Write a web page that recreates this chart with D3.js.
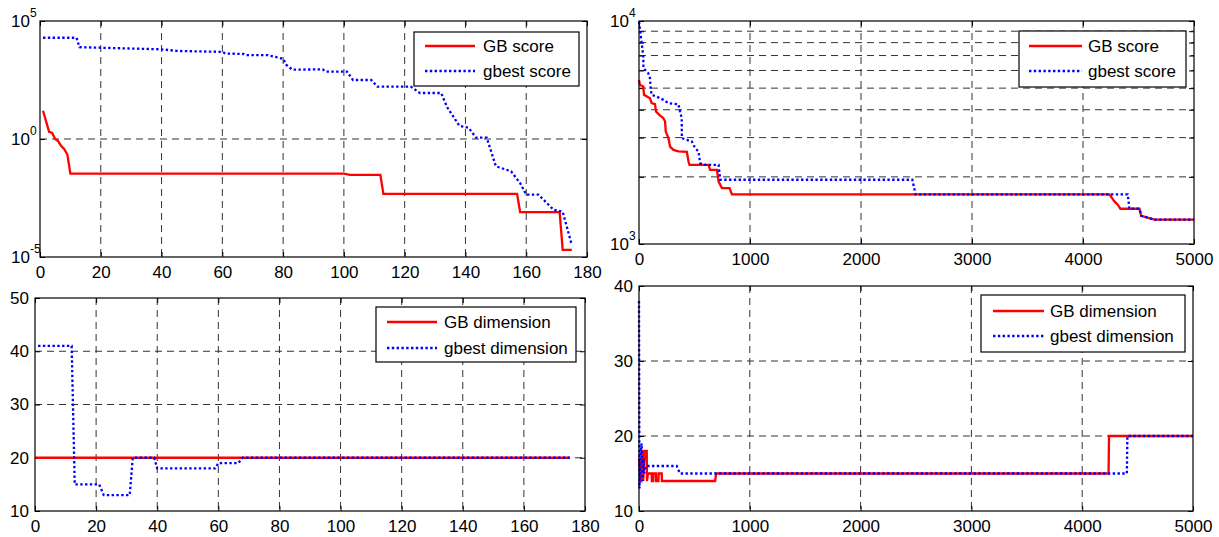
<!DOCTYPE html>
<html>
<head>
<meta charset="utf-8">
<script src="https://cdn.jsdelivr.net/npm/d3@7"></script>
<style>
body { margin: 0; background: #fff; }
svg { display: block; }
text { font-family: "Liberation Sans", Arial, sans-serif; fill: #000; }
</style>
</head>
<body>
<svg id="chart" width="1219" height="537"></svg>
<script>
// ---- data ----
// top left: score vs iteration (log y)
const tlGbIter = [1, 3, 4, 5, 6, 7, 8, 9, 10, 100, 102, 112, 113, 157, 158, 171, 172, 175];
const tlGbScore = [15.8, 2.0, 1.8, 1.0, 0.8, 0.5, 0.37, 0.22, 0.034, 0.034, 0.03, 0.03, 0.0047, 0.0047, 0.0008, 0.0008, 0.00002, 0.00002];
const tlBestIter = [1, 12, 13, 40, 45, 60, 61, 67, 68, 75, 80, 81, 83, 93, 94, 101, 103, 109, 111, 122, 125, 132, 134, 138, 141, 143.5, 147, 150, 155, 158, 160, 164, 169, 172, 175];
const tlBestScore = [19500, 19500, 7760, 6300, 5400, 4900, 4200, 4000, 3550, 3550, 2500, 1400, 870, 890, 720, 720, 316, 316, 166, 166, 89, 89, 22, 3.6, 3.0, 1.15, 1.15, 0.07, 0.043, 0.0135, 0.0044, 0.0044, 0.001, 0.00083, 0.000032];

// top right: score vs iteration (log y)
const trGbIter = [0, 9, 39, 45, 99, 114, 144, 153, 183, 220, 235, 241, 265, 280, 310, 355, 431, 446, 455, 626, 641, 702, 717, 747, 816, 837, 4238, 4283, 4313, 4337, 4509, 4524, 4645, 5000];
const trGbScore = [5445, 5167, 5080, 4665, 4505, 4280, 4235, 3925, 3795, 3665, 3540, 3193, 2983, 2735, 2643, 2600, 2590, 2344, 2265, 2265, 2152, 2152, 1906, 1782, 1782, 1670, 1670, 1552, 1500, 1439, 1439, 1339, 1285, 1285];
const trBestIter = [0, 9, 24, 39, 40, 84, 99, 105, 114, 159, 220, 265, 355, 370, 385, 386, 431, 476, 506, 536, 551, 581, 717, 732, 2462, 2492, 4403, 4418, 4509, 4524, 4645, 5000];
const trBestScore = [9930, 9115, 7940, 6920, 6140, 5830, 5535, 5000, 4665, 4580, 4430, 4280, 4235, 3925, 3665, 2983, 2930, 2880, 2690, 2600, 2305, 2265, 2265, 1941, 1941, 1670, 1670, 1439, 1439, 1339, 1285, 1285];

// bottom left: dimension vs iteration
const blGbIter = [0, 175];
const blGbDim = [20, 20];
const blBestIter = [1, 12, 13, 21, 22.5, 31, 32, 39, 40, 59, 60, 66.5, 68, 175];
const blBestDim = [41, 41, 15, 15, 13, 13, 20, 20, 18, 18, 19, 19, 20, 20];

// bottom right: dimension vs iteration
const brGbIter = [0, 10, 15, 22, 25, 35, 38, 45, 55, 70, 72, 80, 114, 116, 129, 131, 153, 155, 175, 177, 205, 207, 687, 696, 4238, 4242, 5000];
const brGbDim = [17, 15, 14, 14, 18, 18, 14, 16, 18, 18, 14, 15, 15, 14, 14, 15, 15, 14, 14, 15, 15, 14, 14, 15, 15, 20, 20];
const brBestIter = [0, 4, 14, 24, 32, 40, 48, 60, 340, 370, 4403, 4408, 5000];
const brBestDim = [38, 13, 18, 19, 14, 17, 15, 16, 16, 15, 15, 20, 20];

// tick values
const iterTicksShort = [0, 20, 40, 60, 80, 100, 120, 140, 160, 180];
const iterTicksLong = [0, 1000, 2000, 3000, 4000, 5000];
const tlDecades = [-5, 0, 5];
const trDecades = [3, 4];
const trMinor = [2000, 3000, 4000, 5000, 6000, 7000, 8000, 9000];
const blDimTicks = [10, 20, 30, 40, 50];
const brDimTicks = [10, 20, 30, 40];

const scoreLabels = ["GB score", "gbest score"];
const dimLabels = ["GB dimension", "gbest dimension"];

// ---- drawing ----
const svg = d3.select("#chart");
const RED = "#ff0000", BLUE = "#0000ff";
const FONT = "Liberation Sans, Arial, sans-serif";

function drawPanel(cfg) {
    const g = svg.append("g");
    const x = d3.scaleLinear().domain(cfg.xDomain).range([cfg.left, cfg.right]);
    const y = (cfg.log ? d3.scaleLog() : d3.scaleLinear())
        .domain(cfg.yDomain).range([cfg.bottom, cfg.top]);

    const xTicks = cfg.xTicks;
    const yTicks = cfg.log ? cfg.decades.map(d => Math.pow(10, d)) : cfg.yTicks;

    // dashed grid
    g.selectAll(".gx").data(xTicks.slice(1, -1)).join("line")
        .attr("x1", d => x(d)).attr("x2", d => x(d))
        .attr("y1", cfg.top).attr("y2", cfg.bottom)
        .attr("stroke", "#333").attr("stroke-width", 1).attr("stroke-dasharray", "7,5");
    g.selectAll(".gy").data(cfg.yGrid).join("line")
        .attr("x1", cfg.left).attr("x2", cfg.right)
        .attr("y1", d => y(d)).attr("y2", d => y(d))
        .attr("stroke", "#333").attr("stroke-width", 1).attr("stroke-dasharray", "7,5");

    // axes with inward ticks
    g.append("g").attr("transform", `translate(0,${cfg.bottom})`)
        .call(d3.axisBottom(x).tickValues(xTicks).tickSize(-5).tickSizeOuter(0).tickPadding(9)
            .tickFormat(d3.format("d")))
        .call(a => a.select(".domain").remove())
        .selectAll("text").style("font-size", "17px").style("font-family", FONT).attr("fill", "#000");
    g.append("g").attr("transform", `translate(0,${cfg.top})`)
        .call(d3.axisTop(x).tickValues(xTicks).tickSize(-5).tickSizeOuter(0).tickFormat(""))
        .call(a => a.select(".domain").remove());

    const yAll = cfg.log ? yTicks.concat(cfg.yMinor || []) : yTicks;
    const left = g.append("g").attr("transform", `translate(${cfg.left},0)`)
        .call(d3.axisLeft(y).tickValues(yAll).tickSize(-5).tickSizeOuter(0).tickPadding(6)
            .tickFormat(cfg.log ? "" : d3.format("d")))
        .call(a => a.select(".domain").remove());
    left.selectAll("text").style("font-size", "17px").style("font-family", FONT).attr("fill", "#000");
    g.append("g").attr("transform", `translate(${cfg.right},0)`)
        .call(d3.axisRight(y).tickValues(yAll).tickSize(-5).tickSizeOuter(0).tickFormat(""))
        .call(a => a.select(".domain").remove());

    if (cfg.log) {
        // 10^n labels with superscripts
        g.selectAll(".ylab").data(cfg.decades).join("text")
            .attr("x", cfg.left - 4 - cfg.supWidth)
            .attr("y", d => y(Math.pow(10, d)))
            .attr("dy", "0.36em")
            .attr("text-anchor", "end")
            .style("font-size", "17px")
            .text("10");
        g.selectAll(".ysup").data(cfg.decades).join("text")
            .attr("x", cfg.left - 4 - cfg.supWidth)
            .attr("y", d => y(Math.pow(10, d)) - 4)
            .attr("text-anchor", "start")
            .style("font-size", "12px")
            .text(d => String(d));
    }

    // series
    const line = d3.line().x(d => x(d[0])).y(d => y(d[1]));
    g.append("path").datum(d3.zip(cfg.gbIter, cfg.gbVal))
        .attr("d", line).attr("fill", "none")
        .attr("stroke", RED).attr("stroke-width", 2.3);
    g.append("path").datum(d3.zip(cfg.bestIter, cfg.bestVal))
        .attr("d", line).attr("fill", "none")
        .attr("stroke", BLUE).attr("stroke-width", 2.3).attr("stroke-dasharray", "2.4,2.4");

    // box
    g.append("rect").attr("x", cfg.left).attr("y", cfg.top)
        .attr("width", cfg.right - cfg.left).attr("height", cfg.bottom - cfg.top)
        .attr("fill", "none").attr("stroke", "#000").attr("stroke-width", 1.2);

    // legend
    const L = cfg.legend;
    const lg = g.append("g");
    lg.append("rect").attr("x", L.x).attr("y", L.y).attr("width", L.w).attr("height", L.h)
        .attr("fill", "#fff").attr("stroke", "#000").attr("stroke-width", 1.2);
    const rows = [
        { label: cfg.labels[0], color: RED, dash: null },
        { label: cfg.labels[1], color: BLUE, dash: "2.4,2.4" }
    ];
    rows.forEach((r, i) => {
        const yy = L.y + L.row0 + i * L.rowGap;
        lg.append("line").attr("x1", L.x + L.s0).attr("x2", L.x + L.s1)
            .attr("y1", yy).attr("y2", yy)
            .attr("stroke", r.color).attr("stroke-width", 2.3)
            .attr("stroke-dasharray", r.dash);
        lg.append("text").attr("x", L.x + L.tx).attr("y", yy).attr("dy", "0.36em")
            .style("font-size", "17px").text(r.label);
    });
}

drawPanel({
    left: 40, right: 587, top: 21, bottom: 257,
    xDomain: [0, 180], yDomain: [1e-5, 1e5], log: true,
    xTicks: iterTicksShort, decades: tlDecades, yGrid: [1], supWidth: 6,
    gbIter: tlGbIter, gbVal: tlGbScore, bestIter: tlBestIter, bestVal: tlBestScore,
    labels: scoreLabels,
    legend: { x: 414, y: 32, w: 165, h: 54, row0: 14, rowGap: 25, s0: 11, s1: 61, tx: 69 }
});

drawPanel({
    left: 639, right: 1194, top: 21, bottom: 244,
    xDomain: [0, 5000], yDomain: [1e3, 1e4], log: true,
    xTicks: iterTicksLong, decades: trDecades, yMinor: trMinor, yGrid: trMinor, supWidth: 6,
    gbIter: trGbIter, gbVal: trGbScore, bestIter: trBestIter, bestVal: trBestScore,
    labels: scoreLabels,
    legend: { x: 1019, y: 31, w: 167, h: 56, row0: 15, rowGap: 25, s0: 10, s1: 63, tx: 69 }
});

drawPanel({
    left: 35, right: 585, top: 298, bottom: 511,
    xDomain: [0, 180], yDomain: [10, 50], log: false,
    xTicks: iterTicksShort, yTicks: blDimTicks, yGrid: [20, 30, 40],
    gbIter: blGbIter, gbVal: blGbDim, bestIter: blBestIter, bestVal: blBestDim,
    labels: dimLabels,
    legend: { x: 376, y: 307, w: 200, h: 55, row0: 15, rowGap: 26, s0: 11, s1: 61, tx: 68 }
});

drawPanel({
    left: 639, right: 1193, top: 286, bottom: 511,
    xDomain: [0, 5000], yDomain: [10, 40], log: false,
    xTicks: iterTicksLong, yTicks: brDimTicks, yGrid: [20, 30],
    gbIter: brGbIter, gbVal: brGbDim, bestIter: brBestIter, bestVal: brBestDim,
    labels: dimLabels,
    legend: { x: 981, y: 295, w: 204, h: 57, row0: 16, rowGap: 25, s0: 12, s1: 63, tx: 69 }
});
</script>
</body>
</html>
